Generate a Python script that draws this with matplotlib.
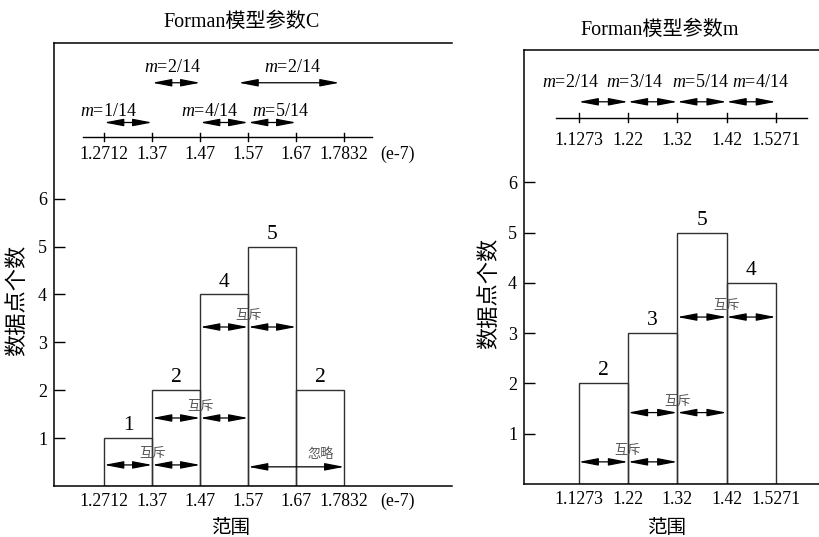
import matplotlib
matplotlib.use("Agg")
import matplotlib.pyplot as plt

plt.rcParams['font.family'] = ['Liberation Serif', 'Noto Sans CJK SC']
plt.rcParams['mathtext.fontset'] = 'custom'
plt.rcParams['mathtext.rm'] = 'Liberation Serif'
plt.rcParams['mathtext.it'] = 'Liberation Serif:italic'

# Forman parameter C: bin edges (x1e-7), counts per bin, weights
c_edges = ['1.2712', '1.37', '1.47', '1.57', '1.67', '1.7832']
c_counts = [1, 2, 4, 5, 2]
c_weights = ['1/14', '2/14', '4/14', '5/14', '2/14']

# Forman parameter m
m_edges = ['1.1273', '1.22', '1.32', '1.42', '1.5271']
m_counts = [2, 3, 5, 4]
m_weights = ['2/14', '3/14', '5/14', '4/14']

W, H = 819, 537
fig = plt.figure(figsize=(W / 100, H / 100), dpi=100)

EDGE = '#303030'
GRAY = '#555555'
TICK_FS = 12.8
M_FS = 13


def px_axes(x0, x1, y_top, y_bot):
    return fig.add_axes([x0 / W, 1 - y_bot / H, (x1 - x0) / W, (y_bot - y_top) / H])


def darrow(ax, x0, x1, y, lw=0.9):
    ax.annotate('', xy=(x1, y), xytext=(x0, y),
                arrowprops=dict(arrowstyle='<|-|>,head_length=1.3,head_width=0.25',
                                mutation_scale=9, color='black', lw=lw,
                                shrinkA=0, shrinkB=0))


def base_axes(ax, counts, edges, ylim, xlim, unit=None):
    n = len(counts)
    ax.bar(range(n), counts, width=1.0, align='edge', fill=False,
           edgecolor=EDGE, linewidth=1.0)
    for i, c in enumerate(counts):
        ax.text(i + 0.5, c + 0.06, str(c), ha='center', va='bottom', fontsize=15.5)
    ax.set_xlim(*xlim)
    ax.set_ylim(*ylim)
    ax.set_yticks(range(1, 7))
    ax.set_yticklabels([str(v) for v in range(1, 7)], fontsize=13)
    ax.tick_params(axis='y', direction='in', length=8, width=1.0, pad=5)
    pos = list(range(len(edges)))
    labels = list(edges)
    if unit:
        pos.append(len(edges) + 0.1)
        labels.append(unit)
    ax.set_xticks(pos)
    ax.set_xticklabels(labels, fontsize=TICK_FS)
    ax.tick_params(axis='x', length=0, pad=5)
    for s in ax.spines.values():
        s.set_linewidth(1.1)
    ax.spines['right'].set_visible(False)


def number_line(ax, edges, y, x0, x1, label_dy):
    ax.plot([x0, x1], [y, y], color='black', lw=1.0)
    for i, e in enumerate(edges):
        ax.plot([i, i], [y - 0.09, y + 0.09], color='black', lw=1.0)
        ax.text(i, y - label_dy, e, ha='center', va='center', fontsize=TICK_FS)


# ---------------- parameter C ----------------
axc = px_axes(54, 452, 43, 486)
base_axes(axc, c_counts, c_edges, (0, 9.25), (-1.045, 7.245), unit='(e-7)')
axc.set_xlabel('范围', fontsize=14)
axc.xaxis.set_label_coords(0.447, -0.074)
axc.set_ylabel('数据点个数', fontsize=16)
axc.yaxis.set_label_coords(-0.066, 0.42)

number_line(axc, c_edges, 7.29, -0.45, 5.57, 0.37)
axc.text(6.1, 7.29 - 0.37, '(e-7)', ha='center', va='center', fontsize=TICK_FS)

# weight arrows above the number line
darrow(axc, 0, 1, 7.59)
axc.text(0.09, 7.82, f'$m$={c_weights[0]}', ha='center', va='center', fontsize=M_FS)
darrow(axc, 1, 2, 8.42)
axc.text(1.42, 8.73, f'$m$={c_weights[1]}', ha='center', va='center', fontsize=M_FS)
darrow(axc, 2, 3, 7.59)
axc.text(2.2, 7.82, f'$m$={c_weights[2]}', ha='center', va='center', fontsize=M_FS)
darrow(axc, 3, 4, 7.59)
axc.text(3.68, 7.82, f'$m$={c_weights[3]}', ha='center', va='center', fontsize=M_FS)
darrow(axc, 2.8, 4.9, 8.42)
axc.text(3.93, 8.73, f'$m$={c_weights[4]}', ha='center', va='center', fontsize=M_FS)

# exclusion / ignore markers inside the histogram
for k, y in [(1, 0.44), (2, 1.42), (3, 3.32)]:
    darrow(axc, k - 1, k, y)
    darrow(axc, k, k + 1, y)
    axc.text(k, y + 0.1, '互斥', ha='center', va='bottom', fontsize=9.5, color=GRAY)
darrow(axc, 3, 5, 0.40)
axc.text(4.5, 0.52, '忽略', ha='center', va='bottom', fontsize=9.5, color=GRAY)

# ---------------- parameter m ----------------
axm = px_axes(524, 835, 50, 484)
base_axes(axm, m_counts, m_edges, (0, 8.63), (-1.11, 5.2))
axm.set_xlabel('范围', fontsize=14)
axm.xaxis.set_label_coords(0.46, -0.081)
axm.set_ylabel('数据点个数', fontsize=16)
axm.yaxis.set_label_coords(-0.077, 0.44)

number_line(axm, m_edges, 7.28, -0.46, 4.63, 0.45)
label_x = [-0.16, 1.14, 2.46, 3.69]
for i, w in enumerate(m_weights):
    darrow(axm, i, i + 1, 7.60)
    axm.text(label_x[i], 7.98, f'$m$={w}', ha='center', va='center', fontsize=M_FS)

for k, y in [(1, 0.44), (2, 1.42), (3, 3.32)]:
    darrow(axm, k - 1, k, y)
    darrow(axm, k, k + 1, y)
    axm.text(k, y + 0.1, '互斥', ha='center', va='bottom', fontsize=9.5, color=GRAY)

fig.text(242 / W, 1 - 22 / H, 'Forman模型参数C', ha='center', va='center', fontsize=14.5)
fig.text(660 / W, 1 - 30 / H, 'Forman模型参数m', ha='center', va='center', fontsize=14.5)

fig.savefig('out.png', dpi=100)
